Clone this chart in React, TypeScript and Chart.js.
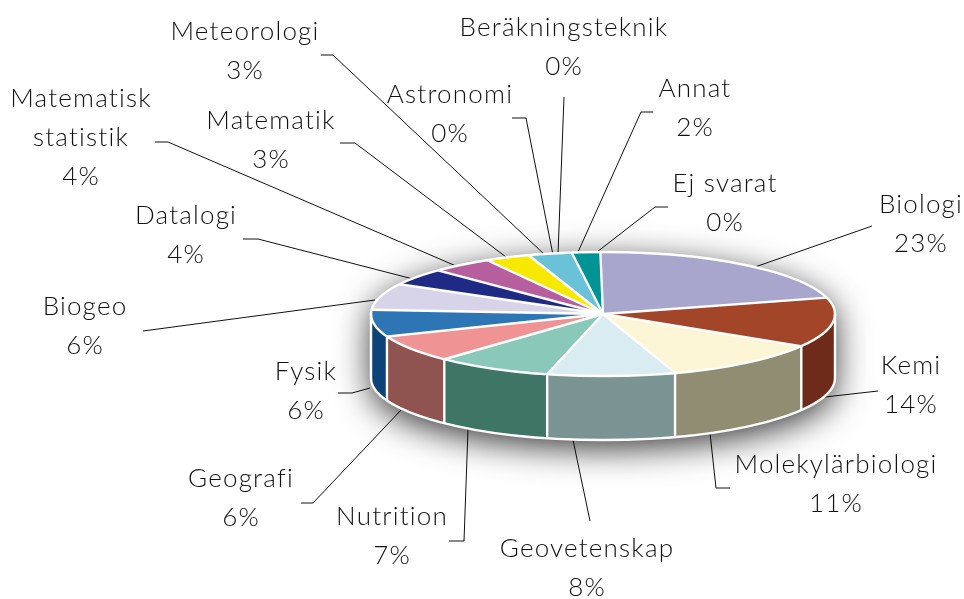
import React, { useEffect, useRef } from "react";
import { Chart, registerables } from "chart.js";

Chart.register(...registerables);

const categories = [
  "Biologi", "Kemi", "Molekylärbiologi", "Geovetenskap", "Nutrition", "Geografi", "Fysik", "Biogeo",
  "Datalogi", "Matematisk\nstatistik", "Matematik", "Meteorologi", "Astronomi", "Beräkningsteknik", "Annat", "Ej svarat",
];
const percentages = [23, 14, 11, 8, 7, 6, 6, 6, 4, 4, 3, 3, 0, 0, 2, 0];
const topColors = [
  "#A9A6CE", "#A24528", "#FDF6D6", "#D8ECF1", "#8AC8BA", "#F09394", "#2E75B6", "#D7D3E8",
  "#1F2A84", "#B75E9E", "#F7E800", "#69C2D8", "#69C2D8", "#69C2D8", "#009494", "#009494",
];
const wallColors = [
  "#6E6C88", "#6F2B1A", "#908D72", "#7A9494", "#3F7565", "#8F5350", "#0D4377", "#8A8798",
  "#141B58", "#783E68", "#A29800", "#447F8E", "#447F8E", "#447F8E", "#006060", "#006060",
];

// Annotation layout: label centre and leader line for each category, in page pixels.
const labelCentres: [number, number][] = [
  [921, 205], [911, 366], [836, 465], [587, 549], [392, 517], [241, 479], [306, 372], [85, 307],
  [186, 216], [81, 99], [271, 121], [245, 32], [450, 95], [564, 28], [695, 89], [725, 184],
];
const leaderPaths: [number, number][][] = [
  [[872, 226], [755, 267]],
  [[878, 391], [825, 397]],
  [[730, 488], [716, 488], [710, 433]],
  [[590, 521], [573, 440]],
  [[449, 541], [464, 541], [468, 429]],
  [[301, 503], [313, 503], [402, 409]],
  [[338, 393], [352, 393], [370, 388]],
  [[143, 331], [375, 300]],
  [[243, 239], [258, 239], [413, 279]],
  [[155, 142], [168, 142], [456, 266]],
  [[340, 143], [355, 143], [506, 257]],
  [[321, 55], [333, 55], [545, 255]],
  [[512, 118], [526, 118], [553, 255]],
  [[564, 97], [558, 254]],
  [[653, 112], [641, 112], [578, 252]],
  [[668, 207], [655, 207], [597, 252]],
];

const SQUASH = 62 / 232;
const DEPTH = 64;
const LINE_GAP = 39;
const FONT = '300 26px Lato, "Open Sans", sans-serif';
const deg = Math.PI / 180;

// The reference is a tilted 3D render: sweep angles are foreshortened by the camera.
const warp = (a: number) => {
  const t = a + Math.PI / 2;
  return a - 8.4 * deg - 8.27 * deg * Math.cos(t - 159.6 * deg);
};

const pie3d = {
  id: "pie3d",
  afterDatasetsUpdate(chart: any) {
    for (const arc of chart.getDatasetMeta(0).data) {
      arc.startAngle = warp(arc.startAngle);
      arc.endAngle = warp(arc.endAngle);
    }
  },
  beforeDatasetsDraw(chart: any) {
    const { ctx } = chart;
    const arcs = chart.getDatasetMeta(0).data;
    const { x: cx, y: cy, outerRadius: rx } = arcs[0];
    const ry = rx * SQUASH;

    // leader lines
    ctx.save();
    ctx.strokeStyle = "#111";
    ctx.lineWidth = 1;
    for (const path of leaderPaths) {
      ctx.beginPath();
      path.forEach(([x, y], i) => (i ? ctx.lineTo(x, y) : ctx.moveTo(x, y)));
      ctx.stroke();
    }
    ctx.restore();

    // soft shadow under the solid
    const outline = () => {
      ctx.beginPath();
      ctx.ellipse(cx, cy, rx, ry, 0, Math.PI, 0);
      ctx.ellipse(cx, cy + DEPTH, rx, ry, 0, 0, Math.PI);
      ctx.closePath();
    };
    ctx.save();
    ctx.shadowColor = "rgba(0,0,0,0.8)";
    ctx.shadowBlur = 34;
    ctx.shadowOffsetY = 8;
    ctx.fillStyle = "#fff";
    outline();
    ctx.fill();
    ctx.restore();

    // walls of the front half
    arcs.forEach((arc: any, i: number) => {
      const a = Math.max(arc.startAngle, 0);
      const b = Math.min(arc.endAngle, Math.PI);
      if (b <= a) return;
      ctx.beginPath();
      ctx.ellipse(cx, cy, rx, ry, 0, a, b);
      ctx.ellipse(cx, cy + DEPTH, rx, ry, 0, b, a, true);
      ctx.closePath();
      ctx.fillStyle = wallColors[i];
      ctx.fill();
    });

    ctx.save();
    ctx.translate(cx, cy);
    ctx.scale(1, SQUASH);
    ctx.translate(-cx, -cy);
  },
  afterDatasetsDraw(chart: any) {
    const { ctx } = chart;
    ctx.restore();
    const arcs = chart.getDatasetMeta(0).data;
    const { x: cx, y: cy, outerRadius: rx } = arcs[0];
    const ry = rx * SQUASH;

    ctx.save();
    ctx.strokeStyle = "#fff";
    ctx.lineWidth = 2.4;
    ctx.lineCap = "butt";
    // seams on the top face and on the walls
    arcs.forEach((arc: any, i: number) => {
      if (percentages[i] === 0) return;
      const px = cx + rx * Math.cos(arc.startAngle);
      const py = cy + ry * Math.sin(arc.startAngle);
      ctx.beginPath();
      ctx.moveTo(cx, cy);
      ctx.lineTo(px, py);
      if (Math.sin(arc.startAngle) > 0) ctx.lineTo(px, py + DEPTH);
      ctx.stroke();
    });
    // rims
    ctx.beginPath();
    ctx.ellipse(cx, cy, rx, ry, 0, 0, Math.PI * 2);
    ctx.stroke();
    ctx.beginPath();
    ctx.ellipse(cx, cy + DEPTH, rx, ry, 0, 0, Math.PI);
    ctx.moveTo(cx - rx, cy);
    ctx.lineTo(cx - rx, cy + DEPTH);
    ctx.moveTo(cx + rx, cy);
    ctx.lineTo(cx + rx, cy + DEPTH);
    ctx.stroke();
    ctx.restore();

    // labels
    ctx.save();
    ctx.font = FONT;
    (ctx as any).letterSpacing = "1.2px";
    ctx.fillStyle = "#111";
    ctx.textAlign = "center";
    ctx.textBaseline = "middle";
    categories.forEach((name, i) => {
      const [x, y] = labelCentres[i];
      const lines = [...name.split("\n"), `${percentages[i]}%`];
      lines.forEach((line, k) => ctx.fillText(line, x, y + k * LINE_GAP));
    });
    ctx.restore();
  },
};

export default function App() {
  const ref = useRef<HTMLCanvasElement>(null);
  useEffect(() => {
    const chart = new Chart(ref.current!, {
      type: "pie",
      data: {
        labels: categories,
        datasets: [{ data: percentages, backgroundColor: topColors, borderWidth: 0, hoverOffset: 0, clip: false } as any],
      },
      options: {
        animation: false,
        responsive: false,
        events: [],
        layout: { padding: { left: 371, right: 129, top: 82, bottom: 53 } },
        plugins: { legend: { display: false }, tooltip: { enabled: false } },
      },
      plugins: [pie3d],
    } as any);
    return () => chart.destroy();
  }, []);
  return (
    <canvas
      ref={ref}
      width={964}
      height={599}
      style={{ position: "absolute", left: 0, top: 0, width: 964, height: 599, display: "block" }}
    />
  );
}
